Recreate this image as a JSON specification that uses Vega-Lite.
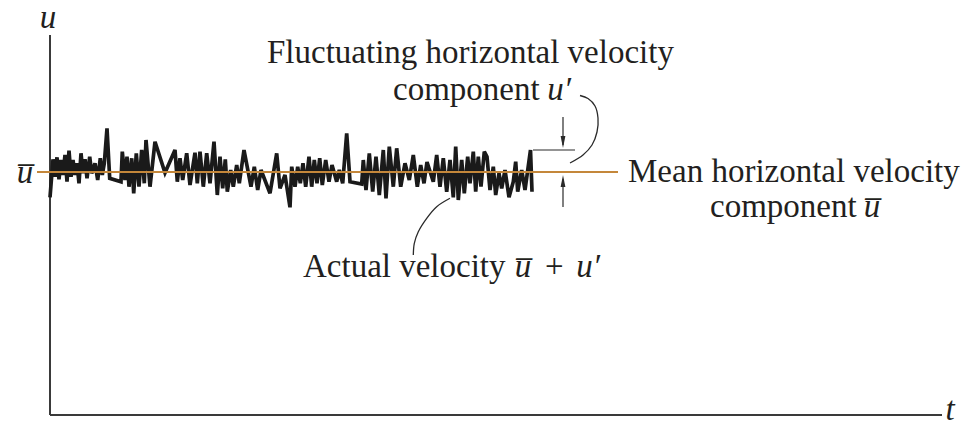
{
  "$schema": "https://vega.github.io/schema/vega-lite/v6.json",
  "width": 967,
  "height": 442,
  "padding": 0,
  "autosize": {"type": "fit", "contains": "padding"},
  "background": "white",
  "config": {"view": {"stroke": null}},
  "datasets": {
    "axes": [
      {"t": 0, "u": 0, "t2": 0, "u2": 38},
      {"t": 0, "u": 0, "t2": 89.2, "u2": 0}
    ],
    "mean": [{"t": -1.3, "t2": 56.8, "u": 24.3}],
    "signal": [
      {"t": 0.0, "u": 21.77}, {"t": 0.3, "u": 25.57}, {"t": 0.5, "u": 23.83}, {"t": 0.7, "u": 25.77},
      {"t": 0.9, "u": 23.57}, {"t": 1.1, "u": 25.5}, {"t": 1.3, "u": 24.0}, {"t": 1.5, "u": 26.0},
      {"t": 1.7, "u": 23.33}, {"t": 1.9, "u": 26.43}, {"t": 2.1, "u": 23.83}, {"t": 2.3, "u": 25.5},
      {"t": 2.5, "u": 24.0}, {"t": 2.7, "u": 25.17}, {"t": 2.9, "u": 23.17}, {"t": 3.1, "u": 26.17},
      {"t": 3.3, "u": 24.17}, {"t": 3.5, "u": 25.57}, {"t": 3.7, "u": 23.67}, {"t": 3.97, "u": 25.83},
      {"t": 4.17, "u": 24.17}, {"t": 4.5, "u": 25.17}, {"t": 4.77, "u": 23.5}, {"t": 5.03, "u": 25.67},
      {"t": 5.23, "u": 24.0}, {"t": 5.43, "u": 25.17}, {"t": 5.7, "u": 28.67}, {"t": 5.97, "u": 23.67},
      {"t": 7.1, "u": 23.33}, {"t": 7.23, "u": 26.33}, {"t": 7.5, "u": 23.5}, {"t": 7.7, "u": 25.83},
      {"t": 7.9, "u": 22.83}, {"t": 8.17, "u": 25.67}, {"t": 8.37, "u": 22.17}, {"t": 8.63, "u": 26.17},
      {"t": 8.9, "u": 22.83}, {"t": 9.17, "u": 26.5}, {"t": 9.43, "u": 23.17}, {"t": 9.6, "u": 27.5},
      {"t": 10.0, "u": 22.83}, {"t": 10.5, "u": 27.33}, {"t": 11.5, "u": 24.23}, {"t": 12.5, "u": 26.5},
      {"t": 12.73, "u": 23.33}, {"t": 13.0, "u": 25.67}, {"t": 13.27, "u": 23.5}, {"t": 13.67, "u": 26.17},
      {"t": 14.0, "u": 23.0}, {"t": 14.5, "u": 26.23}, {"t": 14.73, "u": 23.17}, {"t": 15.0, "u": 26.33},
      {"t": 15.33, "u": 22.83}, {"t": 15.67, "u": 26.17}, {"t": 16.0, "u": 23.17}, {"t": 16.4, "u": 27.33},
      {"t": 16.73, "u": 22.0}, {"t": 17.0, "u": 25.83}, {"t": 17.27, "u": 22.67}, {"t": 17.53, "u": 25.57},
      {"t": 17.73, "u": 22.33}, {"t": 18.07, "u": 24.5}, {"t": 18.33, "u": 22.83}, {"t": 18.67, "u": 25.0},
      {"t": 18.93, "u": 23.17}, {"t": 19.4, "u": 26.5}, {"t": 20.1, "u": 22.83}, {"t": 20.43, "u": 24.83},
      {"t": 20.77, "u": 22.5}, {"t": 21.1, "u": 24.5}, {"t": 22.0, "u": 22.17}, {"t": 22.67, "u": 26.17},
      {"t": 23.0, "u": 22.67}, {"t": 23.5, "u": 24.0}, {"t": 24.0, "u": 20.77}, {"t": 24.17, "u": 24.83},
      {"t": 24.5, "u": 22.83}, {"t": 24.77, "u": 24.83}, {"t": 25.03, "u": 23.17}, {"t": 25.3, "u": 25.17},
      {"t": 25.57, "u": 22.83}, {"t": 25.9, "u": 25.83}, {"t": 26.17, "u": 22.83}, {"t": 26.43, "u": 25.5},
      {"t": 26.7, "u": 23.17}, {"t": 26.97, "u": 25.67}, {"t": 27.23, "u": 23.0}, {"t": 27.57, "u": 25.5},
      {"t": 27.9, "u": 23.33}, {"t": 28.2, "u": 25.0}, {"t": 28.67, "u": 23.33}, {"t": 28.93, "u": 24.5},
      {"t": 29.27, "u": 23.17}, {"t": 29.67, "u": 28.17}, {"t": 30.0, "u": 23.33}, {"t": 31.17, "u": 23.1},
      {"t": 31.33, "u": 25.5}, {"t": 31.6, "u": 22.5}, {"t": 31.93, "u": 26.17}, {"t": 32.27, "u": 22.33},
      {"t": 32.6, "u": 25.83}, {"t": 32.93, "u": 22.0}, {"t": 33.33, "u": 26.5}, {"t": 33.6, "u": 21.67},
      {"t": 33.93, "u": 26.83}, {"t": 34.33, "u": 22.83}, {"t": 34.67, "u": 26.67}, {"t": 35.07, "u": 22.83},
      {"t": 35.5, "u": 25.17}, {"t": 35.93, "u": 23.5}, {"t": 36.33, "u": 26.0}, {"t": 36.73, "u": 22.83},
      {"t": 37.07, "u": 25.0}, {"t": 37.4, "u": 23.17}, {"t": 37.7, "u": 25.3}, {"t": 38.33, "u": 23.33},
      {"t": 38.67, "u": 26.0}, {"t": 39.0, "u": 22.83}, {"t": 39.33, "u": 25.67}, {"t": 39.67, "u": 22.33},
      {"t": 40.0, "u": 25.5}, {"t": 40.33, "u": 21.77}, {"t": 40.57, "u": 26.83}, {"t": 40.83, "u": 21.5},
      {"t": 41.17, "u": 25.5}, {"t": 41.43, "u": 22.17}, {"t": 41.77, "u": 25.83}, {"t": 42.0, "u": 23.17},
      {"t": 42.33, "u": 26.33}, {"t": 42.57, "u": 22.33}, {"t": 42.83, "u": 25.83}, {"t": 43.1, "u": 22.83},
      {"t": 43.43, "u": 26.33}, {"t": 43.7, "u": 25.83}, {"t": 44.0, "u": 22.5}, {"t": 44.33, "u": 24.83},
      {"t": 44.57, "u": 22.0}, {"t": 44.9, "u": 24.17}, {"t": 45.17, "u": 22.67}, {"t": 45.5, "u": 24.5},
      {"t": 45.9, "u": 21.77}, {"t": 46.33, "u": 23.33}, {"t": 46.57, "u": 25.33}, {"t": 46.77, "u": 22.33},
      {"t": 47.17, "u": 24.5}, {"t": 47.5, "u": 22.5}, {"t": 48.05, "u": 26.5}, {"t": 48.2, "u": 22.33}
    ],
    "guides": [
      {"t": 51.3, "u": 29.8, "t2": 51.3, "u2": 27.0},
      {"t": 51.3, "u": 20.8, "t2": 51.3, "u2": 23.6},
      {"t": 48.3, "u": 26.5, "t2": 52.5, "u2": 26.5}
    ],
    "heads": [
      {"t": 51.3, "u": 27.3, "dir": "down"},
      {"t": 51.3, "u": 23.4, "dir": "up"}
    ],
    "leaders": [
      {"id": "fluct", "k": 0, "t": 53.0, "u": 31.95},
      {"id": "fluct", "k": 1, "t": 53.8, "u": 31.65},
      {"id": "fluct", "k": 2, "t": 54.5, "u": 30.9},
      {"id": "fluct", "k": 3, "t": 54.8, "u": 29.7},
      {"id": "fluct", "k": 4, "t": 54.7, "u": 28.3},
      {"id": "fluct", "k": 5, "t": 54.2, "u": 27.0},
      {"id": "fluct", "k": 6, "t": 53.3, "u": 26.0},
      {"id": "fluct", "k": 7, "t": 52.0, "u": 25.2},
      {"id": "actual", "k": 0, "t": 40.0, "u": 21.67},
      {"id": "actual", "k": 1, "t": 38.67, "u": 20.83},
      {"id": "actual", "k": 2, "t": 37.67, "u": 19.67},
      {"id": "actual", "k": 3, "t": 36.83, "u": 18.33},
      {"id": "actual", "k": 4, "t": 36.43, "u": 17.17},
      {"id": "actual", "k": 5, "t": 36.33, "u": 16.0}
    ],
    "roman": [
      {"label": "Fluctuating horizontal velocity", "t": 21.7, "u": 35.2},
      {"label": "component", "t": 34.3, "u": 31.5},
      {"label": "Mean horizontal velocity", "t": 57.8, "u": 23.3},
      {"label": "component", "t": 66.0, "u": 19.8},
      {"label": "Actual velocity", "t": 25.3, "u": 13.8},
      {"label": "+", "t": 49.5, "u": 13.8}
    ],
    "italic": [
      {"label": "u′", "t": 50.9, "u": 31.5},
      {"label": "u̅", "t": 82.2, "u": 19.8},
      {"label": "u̅", "t": 47.3, "u": 13.8},
      {"label": "u′", "t": 53.8, "u": 13.8},
      {"label": "u", "t": -0.2, "u": 38.7},
      {"label": "u̅", "t": -2.5, "u": 23.2},
      {"label": "t", "t": 90.0, "u": -0.5}
    ]
  },
  "encoding": {
    "x": {"field": "t", "type": "quantitative", "scale": {"domain": [-5, 91.7], "nice": false, "zero": false}, "axis": null},
    "y": {"field": "u", "type": "quantitative", "scale": {"domain": [-2.7, 41.5], "nice": false, "zero": false}, "axis": null}
  },
  "layer": [
    {
      "data": {"name": "axes"},
      "mark": {"type": "rule", "color": "#3a3a3a", "strokeWidth": 2},
      "encoding": {"x2": {"field": "t2"}, "y2": {"field": "u2"}}
    },
    {
      "data": {"name": "signal"},
      "mark": {"type": "line", "color": "#1a1a1a", "strokeWidth": 3.7, "strokeJoin": "miter", "strokeMiterLimit": 3},
      "encoding": {}
    },
    {
      "data": {"name": "mean"},
      "mark": {"type": "rule", "color": "#c4873a", "strokeWidth": 2},
      "encoding": {"x2": {"field": "t2"}}
    },
    {
      "data": {"name": "guides"},
      "mark": {"type": "rule", "color": "#2a2a2a", "strokeWidth": 1.2},
      "encoding": {"x2": {"field": "t2"}, "y2": {"field": "u2"}}
    },
    {
      "data": {"name": "heads"},
      "mark": {"type": "point", "filled": true, "color": "#2a2a2a", "size": 144, "opacity": 1},
      "encoding": {
        "shape": {
          "field": "dir",
          "type": "nominal",
          "scale": {"domain": ["down", "up"], "range": ["M-0.4,-1L0.4,-1L0,1Z", "M-0.4,1L0.4,1L0,-1Z"]},
          "legend": null
        }
      }
    },
    {
      "data": {"name": "leaders"},
      "mark": {"type": "line", "color": "#2a2a2a", "strokeWidth": 1.3, "interpolate": "catmull-rom"},
      "encoding": {"detail": {"field": "id"}, "order": {"field": "k", "type": "quantitative"}}
    },
    {
      "data": {"name": "roman"},
      "mark": {"type": "text", "font": "Liberation Serif", "fontSize": 33, "color": "#231f20", "align": "left", "baseline": "alphabetic"},
      "encoding": {"text": {"field": "label"}}
    },
    {
      "data": {"name": "italic"},
      "mark": {"type": "text", "font": "Liberation Serif", "fontStyle": "italic", "fontSize": 33, "color": "#231f20", "align": "center", "baseline": "alphabetic"},
      "encoding": {"text": {"field": "label"}}
    }
  ]
}
